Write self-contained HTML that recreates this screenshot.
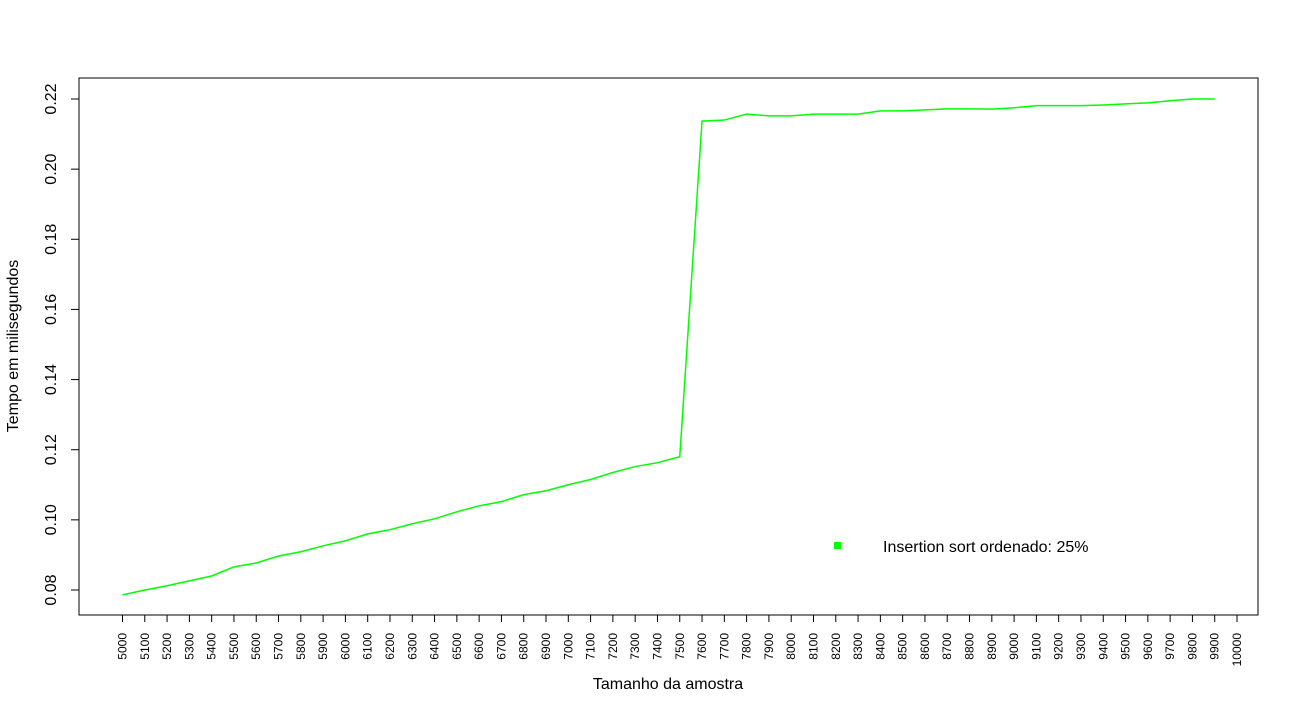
<!DOCTYPE html>
<html><head><meta charset="utf-8"><style>html,body{margin:0;padding:0;background:#fff}svg{display:block;font-family:"Liberation Sans",sans-serif}</style></head>
<body>
<svg id="chart" width="1299" height="713" xmlns="http://www.w3.org/2000/svg">
<rect x="79" y="78" width="1179" height="537" fill="none" stroke="#000" stroke-width="1"/>
<g id="xaxis"></g>
<g id="yaxis"></g>
<polyline id="line" fill="none" stroke="#00ff00" stroke-width="1.5"/>
<text x="668" y="689" font-size="16" text-anchor="middle">Tamanho da amostra</text>
<text transform="translate(18,346) rotate(-90)" font-size="16" text-anchor="middle">Tempo em milisegundos</text>
<g>
<rect x="834" y="542" width="7" height="7" fill="#00ff00"/>
<text x="883" y="552" font-size="16">Insertion sort ordenado: 25%</text>
</g>
</svg>
<script>
const sizes = [5000,5100,5200,5300,5400,5500,5600,5700,5800,5900,6000,6100,6200,6300,6400,6500,6600,6700,6800,6900,7000,7100,7200,7300,7400,7500,7600,7700,7800,7900,8000,8100,8200,8300,8400,8500,8600,8700,8800,8900,9000,9100,9200,9300,9400,9500,9600,9700,9800,9900];
const times = [0.0786,0.0800,0.0812,0.0826,0.0840,0.0866,0.0877,0.0897,0.0909,0.0926,0.0940,0.0960,0.0972,0.0989,0.1003,0.1023,0.1040,0.1052,0.1072,0.1083,0.1100,0.1115,0.1135,0.1152,0.1163,0.1180,0.2137,0.2140,0.2157,0.2152,0.2152,0.2157,0.2157,0.2157,0.2166,0.2166,0.2169,0.2172,0.2172,0.2171,0.2175,0.2181,0.2181,0.2181,0.2183,0.2186,0.2189,0.2195,0.2200,0.2200];
const xTicks = [5000,5100,5200,5300,5400,5500,5600,5700,5800,5900,6000,6100,6200,6300,6400,6500,6600,6700,6800,6900,7000,7100,7200,7300,7400,7500,7600,7700,7800,7900,8000,8100,8200,8300,8400,8500,8600,8700,8800,8900,9000,9100,9200,9300,9400,9500,9600,9700,9800,9900,10000];
const yTicks = [0.08,0.10,0.12,0.14,0.16,0.18,0.20,0.22];
const NS = "http://www.w3.org/2000/svg";
function xs(v){return 122.5 + (v-5000)*(1237-122.5)/5000;}
function ys(v){return 590 - (v-0.08)*(590-99)/0.14;}
const xa = document.getElementById('xaxis');
const base = document.createElementNS(NS,'line');


base.setAttribute('x1',xs(xTicks[0]));base.setAttribute('x2',xs(xTicks[xTicks.length-1]));
base.setAttribute('y1',615);base.setAttribute('y2',615);base.setAttribute('stroke','#000');
xa.appendChild(base);
xTicks.forEach(t=>{
  const x = xs(t);
  const l = document.createElementNS(NS,'line');
  
  
  l.setAttribute('x1',x);l.setAttribute('x2',x);l.setAttribute('y1',615);l.setAttribute('y2',622);l.setAttribute('stroke','#000');
  xa.appendChild(l);
  const tx = document.createElementNS(NS,'text');
  
  
  tx.setAttribute('transform','translate('+(x+4)+',633) rotate(-90)');
  tx.setAttribute('text-anchor','end');tx.setAttribute('font-size','12');
  tx.textContent = t;
  xa.appendChild(tx);
});
const ya = document.getElementById('yaxis');
const yl = document.createElementNS(NS,'line');


yl.setAttribute('x1',79);yl.setAttribute('x2',79);yl.setAttribute('y1',ys(yTicks[0]));yl.setAttribute('y2',ys(yTicks[yTicks.length-1]));yl.setAttribute('stroke','#000');
ya.appendChild(yl);
yTicks.forEach(t=>{
  const y = ys(t);
  const l = document.createElementNS(NS,'line');
  
  
  l.setAttribute('x1',71);l.setAttribute('x2',79);l.setAttribute('y1',y);l.setAttribute('y2',y);l.setAttribute('stroke','#000');
  ya.appendChild(l);
  const tx = document.createElementNS(NS,'text');
  
  
  tx.setAttribute('transform','translate(56,'+y+') rotate(-90)');
  tx.setAttribute('text-anchor','middle');tx.setAttribute('font-size','16');
  tx.textContent = t.toFixed(2);
  ya.appendChild(tx);
});
document.getElementById('line').setAttribute('points', sizes.map((s,i)=>xs(s)+','+ys(times[i])).join(' '));
</script>
</body></html>
